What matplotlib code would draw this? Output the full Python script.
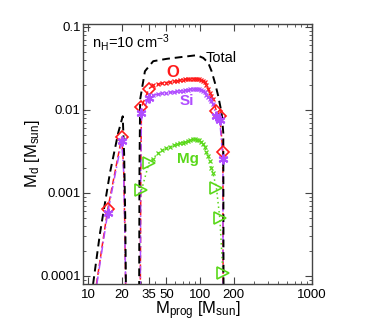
import matplotlib
matplotlib.use("Agg")
import matplotlib.pyplot as plt

plt.rcParams['font.family'] = ['Liberation Sans', 'DejaVu Sans']
plt.rcParams['mathtext.fontset'] = 'custom'
plt.rcParams['mathtext.rm'] = 'Liberation Sans'
plt.rcParams['mathtext.it'] = 'Liberation Sans:italic'

# ---------------- data ----------------
# Total dust mass, two mass windows
total_m1 = [11.1, 12.8, 15.7, 18.6, 20.4, 21.0, 21.5, 21.8]
total_d1 = [8e-5, 3.3e-4, 1.75e-3, 5.3e-3, 8.4e-3, 3.0e-3, 5e-4, 7e-5]
total_m2 = [28.6, 28.8, 29.2, 32.2, 38.2, 50.3, 70.8, 93.3, 106.8, 118.3,
            126.8, 135.8, 145.3, 155.8, 161.2, 162.0]
total_d2 = [7e-5, 2e-3, 0.0134, 0.0293, 0.0387, 0.0413, 0.0437, 0.0457,
            0.0424, 0.037, 0.0293, 0.0212, 0.0147, 0.0092, 0.0053, 7e-5]

# model grid between 35 and 130 Msun (small x markers)
grid_m = [38, 42, 46, 50, 54, 58, 62, 66, 70, 74, 78, 82, 86, 90, 94, 98,
          102, 106, 110, 114, 118, 122, 126, 130]

# O
o_m1 = [11.9, 13.5, 15, 17.5, 20, 20.8, 21.3, 21.7]
o_d1 = [8e-5, 2.5e-4, 6.4e-4, 1.85e-3, 4.7e-3, 2e-3, 4e-4, 7e-5]
o_grid = [0.0198, 0.0205, 0.021, 0.0214, 0.0218, 0.0222, 0.0225, 0.0228,
          0.0231, 0.0234, 0.0236, 0.0238, 0.0239, 0.0239, 0.0238, 0.0235,
          0.0231, 0.0226, 0.0215, 0.0198, 0.018, 0.0161, 0.0148, 0.0136]
o_key_m = [15, 20, 30, 35, 140, 150, 160]
o_key_d = [6.4e-4, 4.7e-3, 0.0109, 0.018, 0.0097, 0.0084, 0.0031]

# Si
si_m1 = [12.0, 13.5, 15, 17.5, 20, 20.8, 21.3, 21.7]
si_d1 = [8e-5, 2.3e-4, 5.8e-4, 1.7e-3, 4.2e-3, 1.8e-3, 3.5e-4, 7e-5]
si_grid = [0.015, 0.0155, 0.0158, 0.016, 0.0163, 0.0165, 0.0167, 0.0169,
           0.0171, 0.0173, 0.0175, 0.0177, 0.0178, 0.0179, 0.0179, 0.0178,
           0.0175, 0.0171, 0.0163, 0.0153, 0.0143, 0.0135, 0.0127, 0.0118]
si_key_m = [15, 20, 30, 35, 140, 150, 160]
si_key_d = [5.8e-4, 4.2e-3, 9.2e-3, 0.014, 8.5e-3, 7.5e-3, 2.6e-3]

# Mg
mg_grid = [2.6e-3, 3.0e-3, 3.25e-3, 3.45e-3, 3.6e-3, 3.75e-3, 3.85e-3,
           3.95e-3, 4.05e-3, 4.15e-3, 4.25e-3, 4.35e-3, 4.45e-3, 4.45e-3,
           4.4e-3, 4.3e-3, 4.15e-3, 3.9e-3, 3.55e-3, 3.1e-3, 2.8e-3,
           2.4e-3, 2.0e-3, 1.75e-3]
mg_key_m = [30, 35, 140, 150, 160]
mg_key_d = [1.08e-3, 2.3e-3, 1.15e-3, 5.0e-4, 1.1e-4]

xticks = [10, 20, 35, 50, 100, 200, 1000]
yticks = [1e-4, 1e-3, 1e-2, 1e-1]
ylabels = ['0.0001', '0.001', '0.01', '0.1']

RED = '#ff1a1a'
PURPLE = '#b04dff'
GREEN = '#5ad81a'

fig = plt.figure(figsize=(3.82, 3.27), dpi=100)
ax = fig.add_axes([0.217, 0.1315, 0.600, 0.7955])

# O
o_m2 = [29.3, 29.6] + o_key_m[2:4] + grid_m + o_key_m[4:] + [160.5]
o_d2 = [7e-5, 2e-3] + o_key_d[2:4] + o_grid + o_key_d[4:] + [7e-5]
ax.plot(o_m1, o_d1, color=RED, ls=(0, (4, 2)), lw=1.1)
ax.plot(o_m2, o_d2, color=RED, ls=(0, (4, 2)), lw=1.1)
ax.plot(grid_m, o_grid, ls='none', marker='x', ms=3, mew=0.9, color=RED)

# Si
si_m2 = [29.3, 29.6] + si_key_m[2:4] + grid_m + si_key_m[4:] + [160.5]
si_d2 = [7e-5, 2e-3] + si_key_d[2:4] + si_grid + si_key_d[4:] + [7e-5]
ax.plot(si_m1, si_d1, color=PURPLE, ls=(0, (5, 2, 1, 2)), lw=1.1)
ax.plot(si_m2, si_d2, color=PURPLE, ls=(0, (5, 2, 1, 2)), lw=1.1)
ax.plot(grid_m, si_grid, ls='none', marker='x', ms=3, mew=0.9, color=PURPLE)

# Mg
mg_m = mg_key_m[:2] + grid_m + mg_key_m[2:]
mg_d = mg_key_d[:2] + mg_grid + mg_key_d[2:]
ax.plot(mg_m, mg_d, color=GREEN, ls=(0, (1, 2)), lw=1.1)
ax.plot(grid_m, mg_grid, ls='none', marker='x', ms=3, mew=0.9, color=GREEN)

# Total
ax.plot(total_m1, total_d1, color='black', ls=(0, (4, 2.5)), lw=1.4)
ax.plot(total_m2, total_d2, color='black', ls=(0, (4, 2.5)), lw=1.4)

# key models
ax.plot(o_key_m, o_key_d, ls='none', marker='D', ms=6.5, mfc='none',
        mec=RED, mew=1.2, zorder=5)
ax.plot(si_key_m, si_key_d, ls='none', marker=(6, 2, 0), ms=7,
        mec=PURPLE, mew=1.5, zorder=5)
ax.plot(mg_key_m, mg_key_d, ls='none', marker='>', ms=8, mfc='none',
        mec=GREEN, mew=1.2, zorder=5)

ax.text(0.04, 0.91, r'n$_\mathrm{H}$=10 cm$^{-3}$', fontsize=10.5,
        transform=ax.transAxes)
ax.text(112, 0.042, 'Total', fontsize=10.5, va='center')
ax.text(57, 0.0285, 'O', fontsize=12, color=RED, fontweight='bold',
        ha='center', va='center')
ax.text(76, 0.0127, 'Si', fontsize=11, color=PURPLE, fontweight='bold',
        ha='center', va='center')
ax.text(78, 0.00258, 'Mg', fontsize=11, color=GREEN, fontweight='bold',
        ha='center', va='center')

ax.set_xscale('log')
ax.set_yscale('log')
ax.set_xlim(9, 1000)
ax.set_ylim(8e-5, 0.109)
ax.set_xticks(xticks)
ax.set_xticklabels([str(t) for t in xticks])
ax.set_yticks(yticks)
ax.set_yticklabels(ylabels)
ax.tick_params(which='both', direction='in', top=True, right=True,
               labelsize=9.5, color='#444444')
ax.tick_params(axis='y', pad=1.5)
ax.tick_params(which='major', length=5, width=0.8)
ax.tick_params(which='minor', length=2.5, width=0.6)
for s in ax.spines.values():
    s.set_linewidth(1.0)
    s.set_color('#444444')

ax.set_xlabel(r'M$_\mathrm{prog}$ [M$_\mathrm{sun}$]', fontsize=12, labelpad=-1)
ax.set_ylabel(r'M$_\mathrm{d}$ [M$_\mathrm{sun}$]', fontsize=12, labelpad=-1)

fig.savefig('out.png', dpi=100)
